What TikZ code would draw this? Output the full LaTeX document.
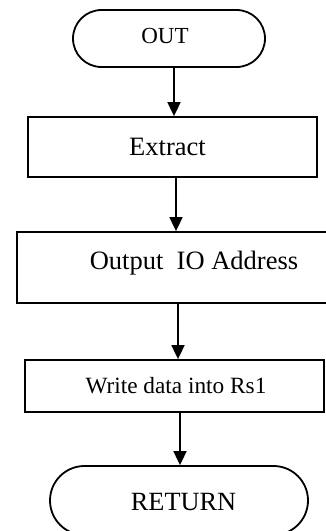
\documentclass[tikz,border=0pt]{standalone}
\usepackage{fontspec}
\setmainfont{Liberation Serif}
\usetikzlibrary{arrows.meta}
\begin{document}
\begin{tikzpicture}[x=1pt,y=-1pt,
  line width=1.8pt,
  stepbox/.style={draw, rectangle, inner sep=0pt},
  termbox/.style={draw, rectangle, inner sep=0pt},
  lbl/.style={inner sep=0pt, anchor=center},
  arr/.style={-{Triangle[length=14pt,width=13pt]}}]
  \clip (0,0) rectangle (326,531);
  \fill[white] (0,0) rectangle (326,531);

  % outlines
  \node[termbox, rounded corners=28.5pt, minimum width=192pt, minimum height=57pt] (out) at (169,38.5) {};
  \node[stepbox, minimum width=289pt, minimum height=60pt] (extract) at (172.5,147) {};
  \node[stepbox, minimum width=320pt, minimum height=71pt] (addr) at (177,267.5) {};
  \node[stepbox, minimum width=299pt, minimum height=52pt] (write) at (174.5,386) {};
  \node[termbox, rounded corners=34.5pt, minimum width=258pt, minimum height=69pt] (ret) at (179,500.5) {};

  % labels
  \node[lbl, font=\fontsize{23}{26}\selectfont] (tout) at (165,36) {OUT};
  \node[lbl, font=\fontsize{26.5}{30}\selectfont] (textract) at (167.5,147) {Extract};
  \node[lbl, font=\fontsize{26.5}{30}\selectfont] (taddr) at (194,263) {Output\ \ IO Address};
  \node[lbl, font=\fontsize{23.3}{26}\selectfont] (twrite) at (176,385.5) {Write data into Rs1};
  \node[lbl, font=\fontsize{26.3}{30}\selectfont] (tret) at (183.5,502) {RETURN};

  % flow
  \draw[arr] ([xshift=5pt]out.south) -- ([xshift=5pt]out.south |- extract.north);
  \draw[arr] ([xshift=3.5pt]extract.south) -- ([xshift=3.5pt]extract.south |- addr.north);
  \draw[arr] ([xshift=1pt]addr.south) -- ([xshift=1pt]addr.south |- write.north);
  \draw[arr] ([xshift=5.5pt]write.south) -- ([xshift=5.5pt]write.south |- ret.north);
\end{tikzpicture}
\end{document}
